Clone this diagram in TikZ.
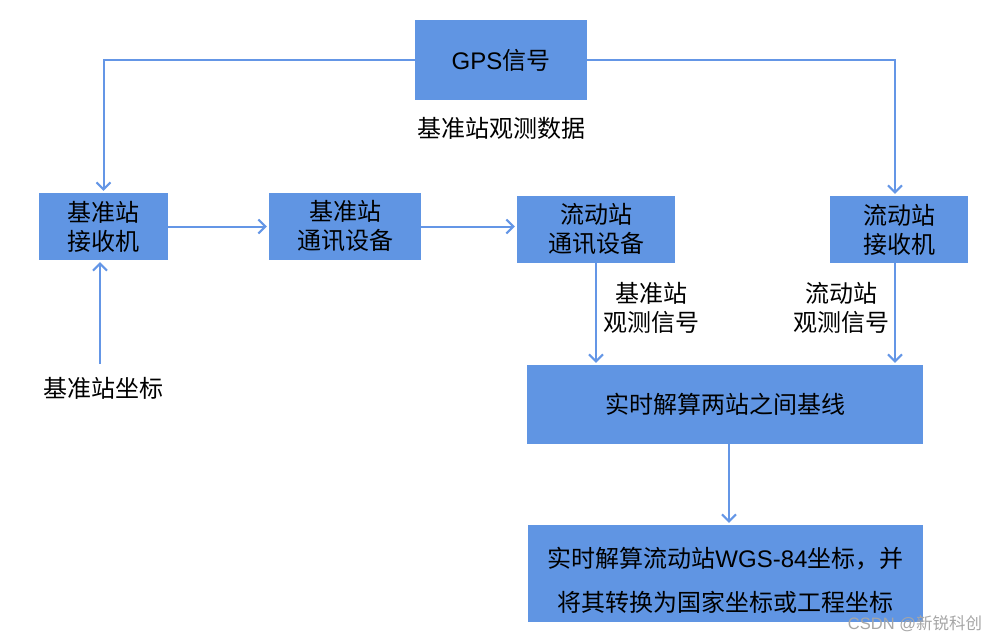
\documentclass[tikz,border=0pt]{standalone}
\usepackage{fontspec}
\setmainfont{Liberation Sans}
\newfontfamily\cjk{Noto Sans CJK SC}
\usetikzlibrary{arrows.meta}
\definecolor{boxblue}{RGB}{96,149,227}
\definecolor{lineblue}{RGB}{100,150,230}
\tikzset{
  box/.style={fill=boxblue, draw=none, align=center, inner sep=0pt,
    font=\fontsize{24}{29}\selectfont\cjk},
  lbl/.style={align=center, inner sep=0pt, font=\fontsize{24}{29}\selectfont\cjk},
  conn/.style={draw=lineblue, line width=2pt, -{Straight Barb[length=7pt,width=14pt,line width=2pt]}, shorten >=2pt}
}
\begin{document}
\begin{tikzpicture}[x=1pt,y=-1pt]
\useasboundingbox (0,0) rectangle (999,643);
\node[box, minimum width=172, minimum height=80] (gps) at (501,60) {{\rmfamily GPS}信号};
\node[box, minimum width=129, minimum height=67] (b1) at (103.5,226.5) {基准站\\接收机};
\node[box, minimum width=152, minimum height=67] (b2) at (345,226.5) {基准站\\通讯设备};
\node[box, minimum width=158, minimum height=67] (b3) at (596,229.5) {流动站\\通讯设备};
\node[box, minimum width=138, minimum height=67] (b4) at (899,229.5) {流动站\\接收机};
\node[box, minimum width=396, minimum height=79] (b5) at (725,404.5) {实时解算两站之间基线};
\node[box, minimum width=395, minimum height=97] (b6) at (725.5,573.5) {};
\node[lbl, font=\fontsize{24}{44}\selectfont\cjk] (b6t) at (725.5,580) {实时解算流动站{\rmfamily WGS-84}坐标，并\\将其转换为国家坐标或工程坐标};
\node[lbl] (data) at (501,128) {基准站观测数据};
\node[lbl] (coord) at (103,388) {基准站坐标};
\node[lbl] (l1) at (651,308) {基准站\\观测信号};
\node[lbl] (l2) at (841,308) {流动站\\观测信号};
\node[inner sep=0pt, text=black!35, font=\fontsize{16.5}{18}\selectfont] (wm) at (915,624) {CSDN @{\cjk 新锐科创}};
\coordinate (r4) at ([xshift=-4]b4.north);
\coordinate (r4s) at ([xshift=-4]b4.south);
\coordinate (r5s) at ([xshift=4]b5.south);
\coordinate (c1) at (100,364);
\draw[conn] (gps.west) -| (b1.north);
\draw[conn] (gps.east) -| (r4);
\draw[conn] (b1.east) -- (b2.west);
\draw[conn] (b2.east) -- (b3.west |- b2.east);
\draw[conn] (b3.south) -- (b3.south |- b5.north);
\draw[conn] (r4s) -- (r4s |- b5.north);
\draw[conn] (r5s) -- (r5s |- b6.north);
\draw[conn] (c1) -- (c1 |- b1.south);
\end{tikzpicture}
\end{document}
